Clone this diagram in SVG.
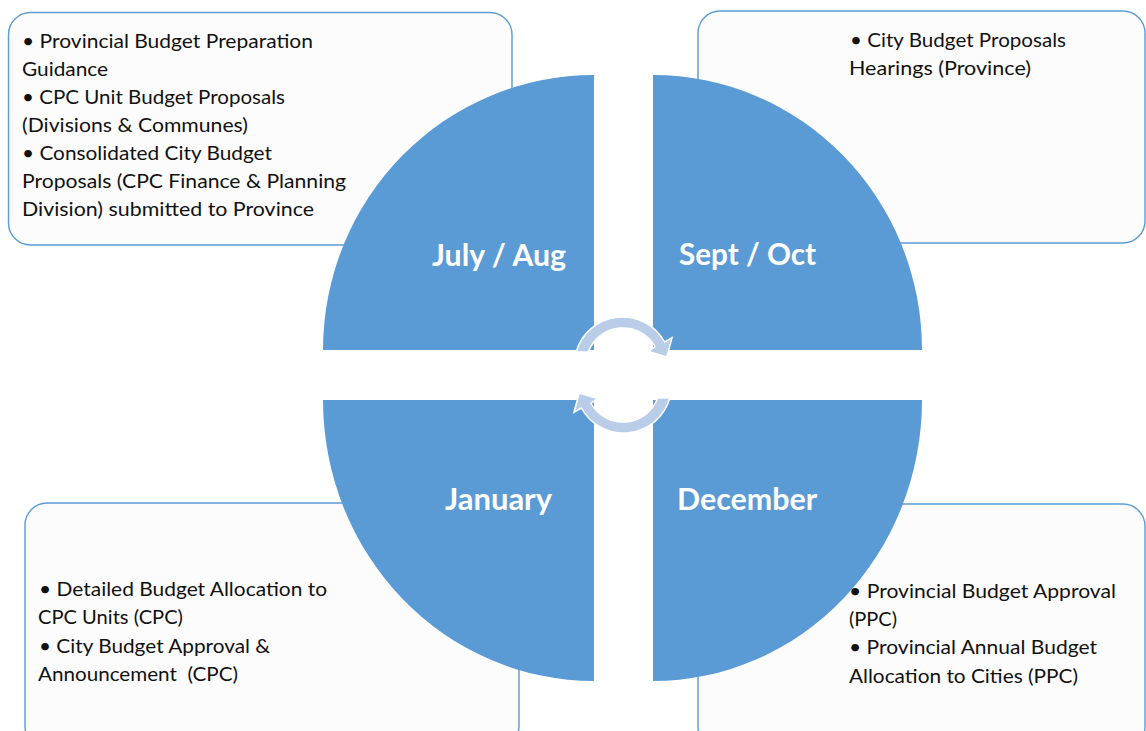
<svg xmlns="http://www.w3.org/2000/svg" width="1146" height="731" viewBox="0 0 1146 731">
<style>
.box{fill:#FCFCFC;stroke:#5B9BD5;stroke-width:1.4}
.q{fill:#5B9BD5}
.t{font-family:Lato,"Liberation Sans",sans-serif;font-size:20px;fill:#111}
.h{font-family:Lato,"Liberation Sans",sans-serif;font-size:30px;font-weight:bold;fill:#fff}
.arr{fill:#B9CDE9;stroke:#fff;stroke-width:1.5;stroke-linejoin:miter}
</style>
<rect width="1146" height="731" fill="#fff"/>
<g id="box-tl"><rect class="box" x="8.5" y="12.5" width="503.5" height="232.5" rx="22"/></g>
<g id="box-tr"><rect class="box" x="698" y="11" width="447" height="232" rx="22"/></g>
<g id="box-bl"><rect class="box" x="25" y="503" width="494" height="245" rx="22"/></g>
<g id="box-br"><rect class="box" x="698" y="504" width="447" height="245" rx="22"/></g>
<g id="q-jul"><path class="q" d="M594,350 H323 A271,275 0 0 1 594,75 Z"/><text class="h" x="432" y="266" textLength="134" lengthAdjust="spacingAndGlyphs">July / Aug</text></g>
<g id="q-sep"><path class="q" d="M653,350 V75 A269,275 0 0 1 922,350 Z"/><text class="h" x="679" y="265" textLength="137" lengthAdjust="spacingAndGlyphs">Sept / Oct</text></g>
<g id="q-jan"><path class="q" d="M594,400 H323 A271,281 0 0 0 594,681 Z"/><text class="h" x="445" y="510" textLength="107" lengthAdjust="spacingAndGlyphs">January</text></g>
<g id="q-dec"><path class="q" d="M653,400 H922 A269,281 0 0 1 653,681 Z"/><text class="h" x="677" y="510" textLength="140" lengthAdjust="spacingAndGlyphs">December</text></g>
<defs>
<path id="arc" class="arr" d="M576.2,352 A48,48 0 0 1 664.6,342 L672,337.7 L666.8,357 L648.5,351.4 L655,346.5 A37,37 0 0 0 588.3,352 Z"/>
</defs>
<g id="connectors">
<use href="#arc"/>
<use href="#arc" transform="rotate(180 623 375)"/>
</g>
<g id="text-tl">
<text class="t" x="22" y="48" textLength="291" lengthAdjust="spacingAndGlyphs">• Provincial Budget Preparation</text>
<text class="t" x="22" y="76" textLength="86" lengthAdjust="spacingAndGlyphs">Guidance</text>
<text class="t" x="22" y="104" textLength="263" lengthAdjust="spacingAndGlyphs">• CPC Unit Budget Proposals</text>
<text class="t" x="22" y="132" textLength="226" lengthAdjust="spacingAndGlyphs">(Divisions &amp; Communes)</text>
<text class="t" x="22" y="160" textLength="250" lengthAdjust="spacingAndGlyphs">• Consolidated City Budget</text>
<text class="t" x="22" y="188" textLength="324" lengthAdjust="spacingAndGlyphs">Proposals (CPC Finance &amp; Planning</text>
<text class="t" x="22" y="216" textLength="292" lengthAdjust="spacingAndGlyphs">Division) submitted to Province</text>
</g>
<g id="text-tr">
<text class="t" x="850" y="47" textLength="216" lengthAdjust="spacingAndGlyphs">• City Budget Proposals</text>
<text class="t" x="849" y="75" textLength="182" lengthAdjust="spacingAndGlyphs">Hearings (Province)</text>
</g>
<g id="text-bl">
<text class="t" x="39" y="596" textLength="288" lengthAdjust="spacingAndGlyphs">• Detailed Budget Allocation to</text>
<text class="t" x="38" y="624" textLength="145" lengthAdjust="spacingAndGlyphs">CPC Units (CPC)</text>
<text class="t" x="39" y="653" textLength="231" lengthAdjust="spacingAndGlyphs">• City Budget Approval &amp;</text>
<text class="t" x="38" y="681" textLength="200" lengthAdjust="spacingAndGlyphs">Announcement&#160; (CPC)</text>
</g>
<g id="text-br">
<text class="t" x="849" y="598" textLength="267" lengthAdjust="spacingAndGlyphs">• Provincial Budget Approval</text>
<text class="t" x="849" y="626" textLength="48" lengthAdjust="spacingAndGlyphs">(PPC)</text>
<text class="t" x="849" y="654" textLength="248" lengthAdjust="spacingAndGlyphs">• Provincial Annual Budget</text>
<text class="t" x="849" y="683" textLength="229" lengthAdjust="spacingAndGlyphs">Allocation to Cities (PPC)</text>
</g>
</svg>
